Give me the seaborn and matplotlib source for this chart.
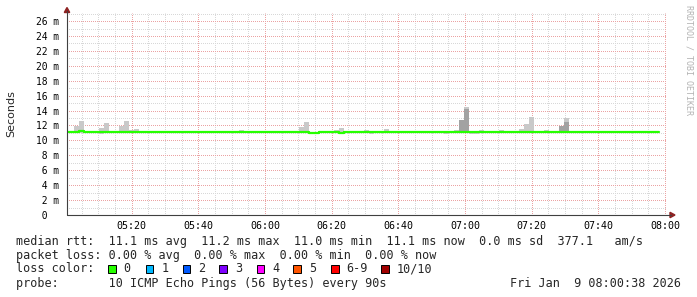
import numpy as np
import pandas as pd
import matplotlib
matplotlib.use("Agg")
import matplotlib.pyplot as plt
from matplotlib.patches import Rectangle, Polygon
from matplotlib.lines import Line2D
import seaborn as sns

# ---------------- data ----------------
step_minutes = 1.5            # 90 s probe interval
first_step_start = -0.25      # minutes after 05:00 (first partially visible step)

median_rtt = [
    11.1, 11.1, 11.1, 11.2, 11.1, 11.1, 11.1, 11.1, 11.1, 11.1,
    11.1, 11.1, 11.1, 11.1, 11.1, 11.1, 11.1, 11.1, 11.1, 11.1,
    11.1, 11.1, 11.1, 11.1, 11.1, 11.1, 11.1, 11.1, 11.1, 11.1,
    11.1, 11.1, 11.1, 11.1, 11.1, 11.1, 11.1, 11.1, 11.1, 11.1,
    11.1, 11.1, 11.1, 11.1, 11.1, 11.1, 11.1, 11.1, 11.1, 10.95,
    10.95, 11.1, 11.1, 11.1, 11.1, 10.95, 11.1, 11.1, 11.1, 11.1,
    11.1, 11.1, 11.1, 11.1, 11.1, 11.1, 11.1, 11.1, 11.1, 11.1,
    11.1, 11.1, 11.1, 11.1, 11.1, 11.1, 11.1, 11.1, 11.1, 11.1,
    11.1, 11.1, 11.1, 11.1, 11.1, 11.1, 11.1, 11.1, 11.1, 11.1,
    11.1, 11.1, 11.1, 11.1, 11.1, 11.1, 11.1, 11.1, 11.1, 11.1,
    11.1, 11.1, 11.1, 11.1, 11.1, 11.1, 11.1, 11.1, 11.1, 11.1,
    11.1, 11.1, 11.1, 11.1, 11.1, 11.1, 11.1, 11.1, 11.1,
]

smoke_hi = [
    11.15, 11.1, 11.9, 12.6, 11.3, 11.3, 11.1, 11.7, 12.3, 11.1,
    11.1, 11.9, 12.6, 11.4, 11.5, 11.1, 11.1, 11.25, 11.25, 11.1,
    11.1, 11.25, 11.25, 11.25, 11.1, 11.1, 11.25, 11.1, 11.1, 11.1,
    11.1, 11.25, 11.1, 11.1, 11.25, 11.35, 11.1, 11.1, 11.1, 11.1,
    11.1, 11.1, 11.25, 11.1, 11.1, 11.1, 11.1, 11.8, 12.5, 11.1,
    11.1, 11.1, 11.1, 11.1, 11.4, 11.7, 11.1, 11.1, 11.1, 11.25,
    11.4, 11.1, 11.1, 11.25, 11.5, 11.25, 11.1, 11.1, 11.1, 11.1,
    11.1, 11.1, 11.1, 11.1, 11.1, 11.1, 11.1, 11.25, 11.4, 12.8,
    14.5, 11.25, 11.25, 11.4, 11.1, 11.1, 11.25, 11.4, 11.1, 11.1,
    11.3, 11.5, 12.2, 13.1, 11.1, 11.25, 11.4, 11.1, 11.1, 11.9,
    13.0, 11.1, 11.25, 11.1, 11.1, 11.1, 11.1, 11.1, 11.1, 11.1,
    11.1, 11.1, 11.1, 11.1, 11.1, 11.1, 11.1, 11.25, 11.1,
]

smoke_lo = [
    11.05, 11.05, 11.05, 11.05, 11.05, 11.05, 11.05, 10.8, 11.05, 11.05,
    11.05, 11.05, 11.05, 11.05, 11.05, 11.05, 11.05, 11.05, 11.05, 11.05,
    11.05, 11.05, 11.05, 11.05, 11.05, 11.05, 11.05, 11.05, 11.05, 11.05,
    11.05, 11.05, 11.05, 11.05, 11.05, 11.05, 11.05, 11.05, 11.05, 11.05,
    11.05, 11.05, 11.05, 11.05, 11.05, 11.05, 11.05, 11.05, 11.05, 10.9,
    10.9, 11.05, 11.05, 11.05, 11.05, 10.9, 11.05, 11.05, 11.05, 11.05,
    11.05, 10.8, 11.05, 11.05, 11.05, 11.05, 11.05, 11.05, 11.05, 11.05,
    11.05, 11.05, 11.05, 11.05, 11.05, 11.05, 10.8, 11.05, 11.05, 11.05,
    11.0, 10.8, 10.8, 11.05, 11.05, 11.05, 11.05, 11.05, 11.05, 11.05,
    11.05, 11.05, 11.05, 11.05, 11.05, 11.05, 11.05, 11.05, 11.05, 11.05,
    11.05, 11.05, 11.05, 11.05, 11.05, 11.05, 11.05, 11.05, 11.05, 11.05,
    11.05, 11.05, 11.05, 11.05, 11.05, 11.05, 11.05, 11.05, 11.05,
]

dark_hi = [
    11.05, 11.05, 11.05, 11.05, 11.05, 11.05, 11.05, 11.05, 11.05, 11.05,
    11.05, 11.05, 11.05, 11.3, 11.3, 11.05, 11.05, 11.25, 11.25, 11.05,
    11.05, 11.05, 11.05, 11.05, 11.05, 11.05, 11.05, 11.05, 11.05, 11.05,
    11.05, 11.05, 11.05, 11.05, 11.05, 11.05, 11.05, 11.05, 11.05, 11.05,
    11.05, 11.05, 11.05, 11.05, 11.05, 11.05, 11.05, 11.05, 11.05, 11.05,
    11.05, 11.05, 11.05, 11.05, 11.05, 11.05, 11.05, 11.05, 11.05, 11.05,
    11.05, 11.05, 11.05, 11.05, 11.05, 11.05, 11.05, 11.05, 11.05, 11.05,
    11.05, 11.05, 11.05, 11.05, 11.05, 11.05, 11.05, 11.05, 11.05, 12.7,
    14.2, 11.05, 11.05, 11.05, 11.05, 11.05, 11.05, 11.05, 11.05, 11.05,
    11.05, 11.05, 11.05, 11.05, 11.05, 11.05, 11.05, 11.05, 11.05, 11.9,
    12.5, 11.05, 11.05, 11.05, 11.05, 11.05, 11.05, 11.05, 11.05, 11.05,
    11.05, 11.05, 11.05, 11.05, 11.05, 11.05, 11.05, 11.05, 11.05,
]

dark_lo = [
    11.05, 11.05, 11.05, 11.05, 11.05, 11.05, 11.05, 11.05, 11.05, 11.05,
    11.05, 11.05, 11.05, 11.05, 11.05, 11.05, 11.05, 11.05, 11.05, 11.05,
    11.05, 11.05, 11.05, 11.05, 11.05, 11.05, 11.05, 11.05, 11.05, 11.05,
    11.05, 11.05, 11.05, 11.05, 11.05, 11.05, 11.05, 11.05, 11.05, 11.05,
    11.05, 11.05, 11.05, 11.05, 11.05, 11.05, 11.05, 11.05, 11.05, 11.05,
    11.05, 11.05, 11.05, 11.05, 11.05, 11.05, 11.05, 11.05, 11.05, 11.05,
    11.05, 11.05, 11.05, 11.05, 11.05, 11.05, 11.05, 11.05, 11.05, 11.05,
    11.05, 11.05, 11.05, 11.05, 11.05, 11.05, 11.05, 11.05, 11.05, 11.05,
    10.95, 11.05, 11.05, 11.05, 11.05, 11.05, 11.05, 11.05, 11.05, 11.05,
    11.05, 11.05, 11.05, 11.05, 11.05, 11.05, 11.05, 11.05, 11.05, 11.05,
    11.05, 11.05, 11.05, 11.05, 11.05, 11.05, 11.05, 11.05, 11.05, 11.05,
    11.05, 11.05, 11.05, 11.05, 11.05, 11.05, 11.05, 11.05, 11.05,
]

x_tick_minutes = [20, 40, 60, 80, 100, 120, 140, 160, 180]
x_tick_labels = ["05:20", "05:40", "06:00", "06:20", "06:40", "07:00", "07:20", "07:40", "08:00"]
y_tick_values = [0, 2, 4, 6, 8, 10, 12, 14, 16, 18, 20, 22, 24, 26]
y_tick_labels = [" 0", " 2 m", " 4 m", " 6 m", " 8 m", "10 m", "12 m", "14 m", "16 m",
                 "18 m", "20 m", "22 m", "24 m", "26 m"]

legend_line1 = "median rtt:  11.1 ms avg  11.2 ms max  11.0 ms min  11.1 ms now  0.0 ms sd  377.1   am/s"
legend_line2 = "packet loss: 0.00 % avg  0.00 % max  0.00 % min  0.00 % now"
loss_labels = ["0", "1", "2", "3", "4", "5", "6-9", "10/10"]
loss_colors = ["#26ff00", "#00b8ff", "#0059ff", "#7e00ff", "#ff00ff", "#ff5500", "#ff0000", "#a10000"]
probe_text = "probe:       10 ICMP Echo Pings (56 Bytes) every 90s"
date_text = "Fri Jan  9 08:00:38 2026"

# ---------------- figure ----------------
sns.set_style("white")
plt.rcParams['font.family'] = ['DejaVu Sans Mono', 'DejaVu Sans']

W, H = 697, 297
fig = plt.figure(figsize=(W / 100, H / 100), dpi=100)
fig.patch.set_facecolor("white")

def fx(x):
    return x / W

def fy(y):
    return 1 - y / H

ax_left, ax_right, ax_top, ax_bot = 67, 667, 13, 215
ax = fig.add_axes([fx(ax_left), fy(ax_bot), (ax_right - ax_left) / W, (ax_bot - ax_top) / H])
ax.set_facecolor("white")
x0 = 38 / 60.0
ax.set_xlim(x0, x0 + 180)
ax.set_ylim(0, (ax_bot - ax_top) / 7.46)

# grid (1px on / 1px off dots, offset half a pixel so dots land on whole pixels)
minor_c = "#d8d8d8"
major_c = "#eba3a3"
dot = (0.5, (1, 1))
for m in range(5, 181, 5):
    if m % 20:
        ax.axvline(m, color=minor_c, lw=0.72, ls=dot, zorder=0)
for v in range(1, 28):
    if v % 2:
        ax.axhline(v, color=minor_c, lw=0.72, ls=dot, zorder=0)
for m in range(20, 181, 20):
    ax.axvline(m, color=major_c, lw=0.72, ls=dot, zorder=0.5)
for v in range(2, 27, 2):
    ax.axhline(v, color=major_c, lw=0.72, ls=dot, zorder=0.5)

n = len(median_rtt)
starts = first_step_start + step_minutes * np.arange(n)
df = pd.DataFrame({
    "t": starts, "median": median_rtt, "lo": smoke_lo, "hi": smoke_hi,
    "dlo": dark_lo, "dhi": dark_hi,
})

# smoke
ax.bar(df["t"], df["hi"] - df["lo"], bottom=df["lo"], width=step_minutes, align="edge",
       color="#c9c9c9", linewidth=0, zorder=2)
ax.bar(df["t"], df["dhi"] - df["dlo"], bottom=df["dlo"], width=step_minutes, align="edge",
       color="#a2a2a2", linewidth=0, zorder=3)

# median line (step)
line_df = pd.DataFrame({
    "t": np.append(df["t"].values, df["t"].values[-1] + step_minutes),
    "median": np.append(df["median"].values, df["median"].values[-1]),
})
sns.lineplot(data=line_df, x="t", y="median", ax=ax, color="#26ff00", lw=1.6,
             drawstyle="steps-post", estimator=None, sort=False, zorder=4)

ax.set_xlabel("")
ax.set_ylabel("")
for s in ax.spines.values():
    s.set_visible(False)

ax.set_xticks(x_tick_minutes)
ax.set_xticklabels(x_tick_labels, fontsize=7.2, family="DejaVu Sans Mono")
ax.set_yticks(y_tick_values)
ax.set_yticklabels(y_tick_labels, fontsize=6.9, family="DejaVu Sans Mono", ha="left")
ax.tick_params(axis="x", length=0, pad=4.2, colors="black")
ax.tick_params(axis="y", length=0, pad=22.5, colors="black")

# axes lines and arrows (figure pixel coords)
axis_c = "#404040"
arrow_c = "#8e2222"
fig.add_artist(Line2D([fx(67), fx(671)], [fy(215), fy(215)], color=axis_c, lw=0.8,
                      transform=fig.transFigure))
fig.add_artist(Line2D([fx(67), fx(67)], [fy(215), fy(11)], color=axis_c, lw=0.8,
                      transform=fig.transFigure))
fig.add_artist(Polygon([(fx(670), fy(212.3)), (fx(675), fy(215)), (fx(670), fy(217.7))],
                       closed=True, color=arrow_c, transform=fig.transFigure))
fig.add_artist(Polygon([(fx(64.3), fy(12.5)), (fx(67), fy(7.5)), (fx(69.7), fy(12.5))],
                       closed=True, color=arrow_c, transform=fig.transFigure))

# y label and watermark
fig.text(fx(11), fy(114), "Seconds", rotation=90, ha="center", va="center",
         fontsize=8, family="DejaVu Sans")
fig.text(fx(688.5), fy(5), "RRDTOOL / TOBI OETIKER", rotation=270, ha="center", va="top",
         fontsize=6.0, color="#b3b3b3", family="DejaVu Sans Mono")

# legend text
lfs = 8.44
fig.text(fx(16), fy(241), legend_line1, ha="left", va="center", fontsize=lfs)
fig.text(fx(16), fy(255.3), legend_line2, ha="left", va="center", fontsize=lfs)
fig.text(fx(16), fy(268.7), "loss color:", ha="left", va="center", fontsize=lfs)
box_x = [108, 145.7, 182.7, 219.3, 256.7, 293.3, 331, 381]
for bx, lab, col in zip(box_x, loss_labels, loss_colors):
    fig.add_artist(Rectangle((fx(bx), fy(272.5)), 7.5 / W, 7.5 / H, facecolor=col,
                             edgecolor="black", lw=0.7, transform=fig.transFigure))
    fig.text(fx(bx + 15.5), fy(268.7), lab, ha="left", va="center", fontsize=lfs)
fig.text(fx(16), fy(283.3), probe_text, ha="left", va="center", fontsize=lfs)
fig.text(fx(681), fy(283.3), date_text, ha="right", va="center", fontsize=lfs)

fig.savefig("out.png", dpi=100, facecolor="white")
